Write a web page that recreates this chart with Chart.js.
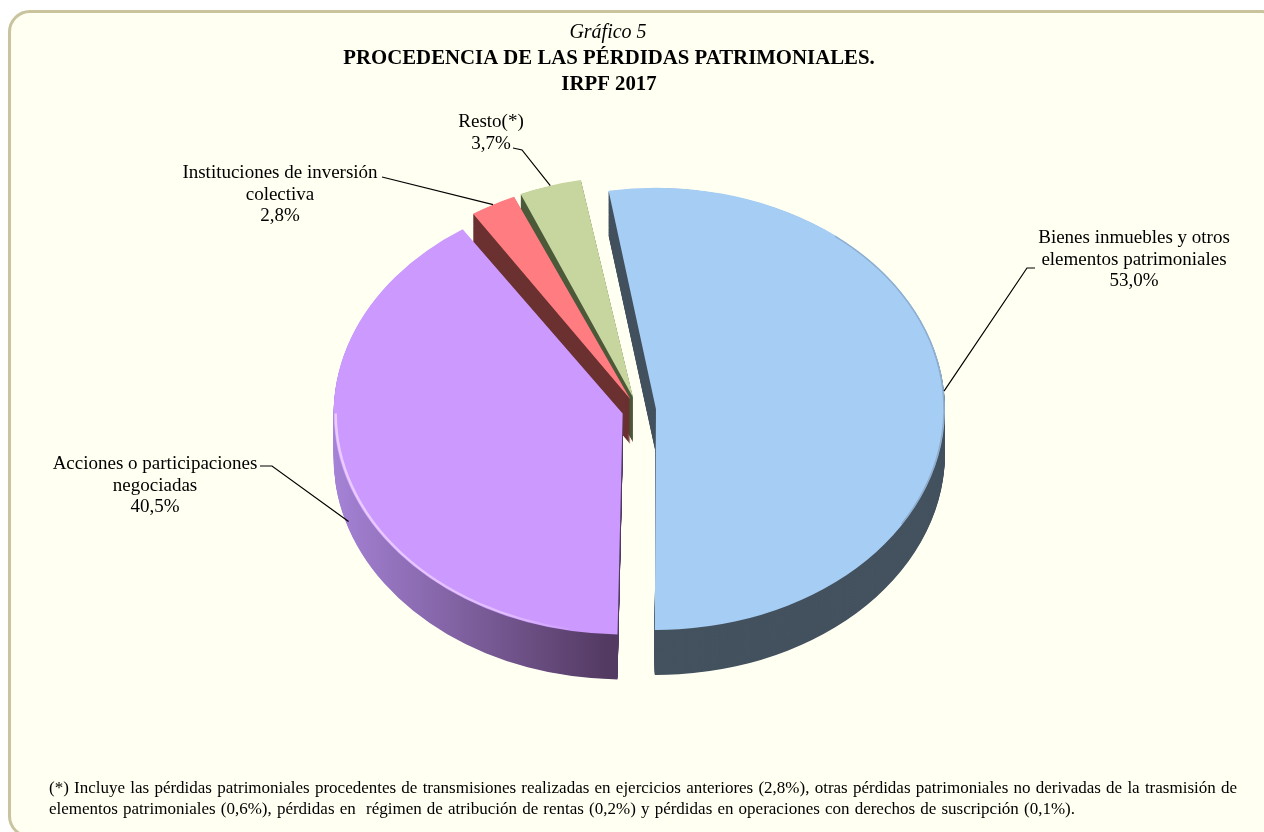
<!DOCTYPE html>
<html lang="es"><head><meta charset="utf-8">
<script src="https://cdn.jsdelivr.net/npm/chart.js@4"></script>
<style>
html,body{margin:0;padding:0;background:#fff;width:1264px;height:832px;overflow:hidden}
#panel{position:absolute;left:8px;top:10px;width:1276px;height:828px;box-sizing:border-box;border:3px solid #C9C39E;border-radius:22px;background:#FFFFF2}
canvas{position:absolute;left:0;top:0}
</style></head><body>
<div id="panel"></div>
<canvas id="c" width="1264" height="832"></canvas>
<script>
const categories = ['Bienes inmuebles y otros elementos patrimoniales','Acciones o participaciones negociadas','Instituciones de inversión colectiva','Resto(*)'];
const values = [53.0, 40.5, 2.8, 3.7];
const topColors = ['#A6CDF4','#CC99FF','#FF7C80','#C6D69E'];
const titleLines = ['Gráfico 5','PROCEDENCIA DE LAS PÉRDIDAS PATRIMONIALES.','IRPF 2017'];
const footnoteLines = ['(*) Incluye las pérdidas patrimoniales procedentes de transmisiones realizadas en ejercicios anteriores (2,8%), otras pérdidas patrimoniales no derivadas de la trasmisión de','elementos patrimoniales (0,6%), pérdidas en  régimen de atribución de rentas (0,2%) y pérdidas en operaciones con derechos de suscripción (0,1%).'];

const FONT = '"Liberation Serif","Times New Roman",serif';
const TILT = 0.765, DEPTH = 45, RADIUS = 289;
const explode = [18, 16, 16, 17];
const wallColors = ['#44525F', null, '#6B3030', '#4C5A3A'];
const labelLayout = [
  {lines:['Bienes inmuebles y otros','elementos patrimoniales'], x:1134, y:243, path:[[1035,268],[1027,268]], frac:.5, drop:0},
  {lines:['Acciones o participaciones','negociadas'], x:155, y:469, path:[[260,466],[272,466]], frac:.485, drop:38},
  {lines:['Instituciones de inversión','colectiva'], x:280, y:178, path:[[382,177]], frac:.5, drop:0},
  {lines:['Resto(*)'], x:491, y:127, path:[[513,148],[522,150]], frac:.5, drop:0}
];
const fmt = v => v.toFixed(1).replace('.',',') + '%';

function arcOffset(a,i){ // shift applied by the arc element, in unsquashed space
  const mid=(a.startAngle+a.endAngle)/2, o=explode[i];
  return {x:a.x+Math.cos(mid)*o, y:a.y+Math.sin(mid)*o};
}
const pie3d = {
  id:'pie3d',
  beforeDatasetsDraw(chart){
    const ctx=chart.ctx, arcs=chart.getDatasetMeta(0).data, cy=arcs[0].y;
    arcs.forEach((a,i)=>{
      const circ=a.endAngle-a.startAngle, fix=1-Math.sin(Math.min(Math.PI,circ));
      a.outerRadius=RADIUS-explode[i]*fix;
    });
    ctx.save();
    ctx.translate(0,cy); ctx.scale(1,TILT); ctx.translate(0,-cy);
    const g=ctx.createLinearGradient(335,0,622,0);
    g.addColorStop(0,'#A986DC'); g.addColorStop(.5,'#7F609F'); g.addColorStop(1,'#533A62');
    [3,2,0,1].forEach(i=>{
      const a=arcs[i], orig=a.options;
      a.options=Object.create(orig,{backgroundColor:{value:i===1?g:wallColors[i]},borderWidth:{value:0}});
      for(let d=DEPTH/TILT;d>0;d-=1){
        ctx.save(); ctx.translate(0,d); a.draw(ctx); ctx.restore();
      }
      a.options=orig;
    });
  },
  afterDatasetsDraw(chart){
    const ctx=chart.ctx, arcs=chart.getDatasetMeta(0).data;
    // rim highlight on the purple and blue faces
    const p=arcOffset(arcs[1],1);
    const rim=ctx.createLinearGradient(335,0,580,0);
    rim.addColorStop(0,'rgba(240,215,255,.85)'); rim.addColorStop(.7,'rgba(240,215,255,.6)'); rim.addColorStop(1,'rgba(240,215,255,0)');
    ctx.beginPath(); ctx.arc(p.x,p.y,RADIUS-2,Math.PI*.56,Math.PI*1.0);
    ctx.strokeStyle=rim; ctx.lineWidth=2.5; ctx.stroke();
    const b=arcOffset(arcs[0],0);
    ctx.beginPath(); ctx.arc(b.x,b.y,RADIUS-1,-0.9,0.55);
    ctx.strokeStyle='rgba(110,135,160,.45)'; ctx.lineWidth=1.5; ctx.stroke();
    ctx.restore();
    // leader lines + labels
    ctx.fillStyle='#000'; ctx.strokeStyle='#000'; ctx.lineWidth=1.2;
    ctx.textAlign='center'; ctx.textBaseline='alphabetic';
    const cy=arcs[0].y;
    labelLayout.forEach((l,i)=>{
      const a=arcs[i], c=arcOffset(a,i), ang=a.startAngle+(a.endAngle-a.startAngle)*l.frac;
      const ax=c.x+Math.cos(ang)*RADIUS, ay=cy+(c.y-cy+Math.sin(ang)*RADIUS)*TILT+l.drop;
      ctx.beginPath(); ctx.moveTo(l.path[0][0],l.path[0][1]);
      l.path.slice(1).forEach(q=>ctx.lineTo(q[0],q[1]));
      ctx.lineTo(ax,ay); ctx.stroke();
      ctx.font='19px '+FONT;
      l.lines.concat(fmt(values[i])).forEach((t,n)=>ctx.fillText(t,l.x,l.y+n*21.5));
    });
    // title
    ctx.font='italic 20px '+FONT; ctx.fillText(titleLines[0],608,38);
    ctx.font='bold 20.8px '+FONT;
    ctx.fillText(titleLines[1],609,64); ctx.fillText(titleLines[2],609,90);
    // footnote
    ctx.textAlign='left'; ctx.font='17px '+FONT;
    const widths=[1188,1026], ys=[793,814];
    footnoteLines.forEach((t,n)=>{
      ctx.wordSpacing='0px';
      const nat=ctx.measureText(t).width, sp=t.split(' ').length-1;
      ctx.wordSpacing=((widths[n]-nat)/sp)+'px';
      ctx.fillText(t,49,ys[n]);
    });
    ctx.wordSpacing='0px';
  }
};
new Chart(document.getElementById('c'),{
  type:'pie',
  data:{labels:categories,datasets:[{data:values,backgroundColor:topColors,borderWidth:0,clip:false,
    offset:explode.map(o=>o*4),hoverOffset:0}]},
  options:{responsive:false,animation:false,events:[],rotation:-10,
    layout:{padding:{left:12,bottom:12}},
    plugins:{legend:{display:false},tooltip:{enabled:false},title:{display:false}}},
  plugins:[pie3d]
});
</script>
</body></html>
